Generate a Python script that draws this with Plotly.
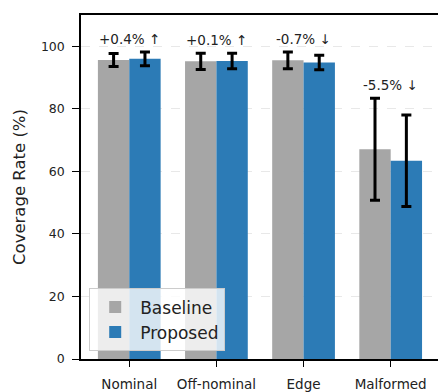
import plotly.graph_objects as go

# Coverage rate per scenario, mean and standard deviation
categories = ["Nominal", "Off-nominal", "Edge", "Malformed"]
baseline_mean = [95.6, 95.2, 95.5, 67.1]
baseline_std = [2.1, 2.6, 2.7, 16.3]
proposed_mean = [96.0, 95.3, 94.8, 63.4]
proposed_std = [2.2, 2.5, 2.3, 14.6]
y_ticks = [0, 20, 40, 60, 80, 100]

BAR_W = 0.36
GREY = "#a6a6a6"
BLUE = "#2c7bb6"
FONT = "DejaVu Sans"

idx = list(range(len(categories)))

fig = go.Figure()
fig.add_trace(go.Bar(
    name="Baseline",
    x=[i - BAR_W / 2 for i in idx], y=baseline_mean, width=BAR_W,
    marker=dict(color=GREY, line=dict(width=0)),
    error_y=dict(type="data", array=baseline_std, visible=True,
                 color="black", thickness=3, width=5),
))
fig.add_trace(go.Bar(
    name="Proposed",
    x=[i + BAR_W / 2 for i in idx], y=proposed_mean, width=BAR_W,
    marker=dict(color=BLUE, line=dict(width=0)),
    error_y=dict(type="data", array=proposed_std, visible=True,
                 color="black", thickness=3, width=5),
))

# Relative change labels above each group
for i, (b, bs, p, ps) in enumerate(zip(baseline_mean, baseline_std,
                                        proposed_mean, proposed_std)):
    change = (p - b) / b * 100
    arrow = "↑" if change >= 0 else "↓"
    top = max(b + bs, p + ps)
    fig.add_annotation(
        x=i, y=top + 1.0, yanchor="bottom", xanchor="center",
        text=f"{change:+.1f}% {arrow}", showarrow=False,
        font=dict(family=FONT, size=13.5, color="#222222"),
    )

fig.update_layout(
    width=438, height=392,
    margin=dict(l=81, r=0, t=15, b=29),
    paper_bgcolor="white", plot_bgcolor="white",
    barmode="overlay",
    font=dict(family=FONT, color="#222222"),
    showlegend=True,
    legend=dict(
        x=0.023, y=0.022, xanchor="left", yanchor="bottom",
        bgcolor="rgba(255,255,255,0.8)", bordercolor="#cccccc", borderwidth=1,
        font=dict(family=FONT, size=17, color="#222222"),
        itemwidth=40, tracegroupgap=0,
    ),
)

fig.update_xaxes(
    range=[-0.554, 3.543],
    tickmode="array", tickvals=idx, ticktext=categories,
    ticks="outside", ticklen=6, tickwidth=1.3, tickcolor="black",
    showline=True, linecolor="black", linewidth=1.5, mirror=True,
    showgrid=False, zeroline=False,
    tickfont=dict(family=FONT, size=13.5, color="#222222"),
    ticklabelstandoff=6,
)
fig.update_yaxes(
    range=[0, 110],
    tickmode="array", tickvals=y_ticks,
    ticks="outside", ticklen=7, tickwidth=1.3, tickcolor="black",
    showline=True, linecolor="black", linewidth=1.5,
    showgrid=True, gridcolor="#e8e8e8", gridwidth=1, griddash="dash",
    zeroline=False,
    tickfont=dict(family=FONT, size=12.5, color="#222222"),
    ticklabelstandoff=5,
    title=dict(text="Coverage Rate (%)", standoff=11,
               font=dict(family=FONT, size=16.5, color="#222222")),
)

fig.write_html("out.html")
